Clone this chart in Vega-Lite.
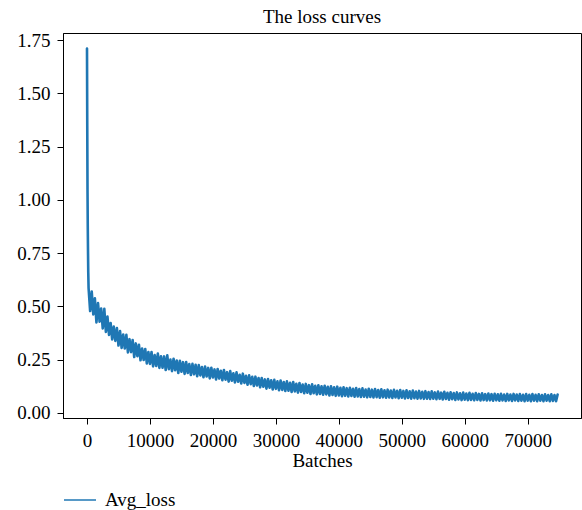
{
"$schema": "https://vega.github.io/schema/vega-lite/v6.json",
"width": 518, "height": 385,
"autosize": {"type": "none"},
"padding": {"left": 63, "top": 33, "right": 1, "bottom": 92},
"background": "white",
"title": {"text": "The loss curves", "font": "Liberation Serif", "fontSize": 19, "fontWeight": "normal", "color": "black", "offset": 4},
"config": {
  "view": {"stroke": "black", "strokeWidth": 1},
  "axis": {"labelFont": "Liberation Serif", "labelFontSize": 19, "labelColor": "black", "titleFont": "Liberation Serif", "titleFontSize": 19, "titleFontWeight": "normal", "titleColor": "black", "grid": false, "tickColor": "black", "domainColor": "black", "tickSize": 6, "labelPadding": 7}
},
"data": {"values": [
{"batch":0,"loss":1.71},{"batch":40,"loss":1.35},{"batch":80,"loss":1.05},{"batch":120,"loss":0.88},{"batch":160,"loss":0.76},{"batch":200,"loss":0.66},
{"batch":250,"loss":0.586},{"batch":500,"loss":0.478},{"batch":750,"loss":0.57},{"batch":1000,"loss":0.462},{"batch":1250,"loss":0.538},{"batch":1500,"loss":0.425},{"batch":1750,"loss":0.515},{"batch":2000,"loss":0.428},{"batch":2250,"loss":0.49},{"batch":2500,"loss":0.396},{"batch":2750,"loss":0.488},{"batch":3000,"loss":0.38},{"batch":3250,"loss":0.452},{"batch":3500,"loss":0.366},{"batch":3750,"loss":0.422},{"batch":4000,"loss":0.345},{"batch":4250,"loss":0.405},{"batch":4500,"loss":0.338},{"batch":4750,"loss":0.398},{"batch":5000,"loss":0.316},
{"batch":5250,"loss":0.384},{"batch":5500,"loss":0.305},{"batch":5750,"loss":0.368},{"batch":6000,"loss":0.302},{"batch":6250,"loss":0.366},{"batch":6500,"loss":0.284},{"batch":6750,"loss":0.346},{"batch":7000,"loss":0.285},{"batch":7250,"loss":0.342},{"batch":7500,"loss":0.262},{"batch":7750,"loss":0.326},{"batch":8000,"loss":0.266},{"batch":8250,"loss":0.32},{"batch":8500,"loss":0.247},{"batch":8750,"loss":0.302},{"batch":9000,"loss":0.248},{"batch":9250,"loss":0.3},{"batch":9500,"loss":0.232},{"batch":9750,"loss":0.286},{"batch":10000,"loss":0.23},
{"batch":10250,"loss":0.286},{"batch":10500,"loss":0.218},{"batch":10750,"loss":0.271},{"batch":11000,"loss":0.22},{"batch":11250,"loss":0.278},{"batch":11500,"loss":0.211},{"batch":11750,"loss":0.266},{"batch":12000,"loss":0.212},{"batch":12250,"loss":0.265},{"batch":12500,"loss":0.201},{"batch":12750,"loss":0.27},{"batch":13000,"loss":0.205},{"batch":13250,"loss":0.25},{"batch":13500,"loss":0.196},{"batch":13750,"loss":0.254},{"batch":14000,"loss":0.2},{"batch":14250,"loss":0.246},{"batch":14500,"loss":0.187},{"batch":14750,"loss":0.245},{"batch":15000,"loss":0.193},{"batch":15250,"loss":0.238},{"batch":15500,"loss":0.183},{"batch":15750,"loss":0.239},{"batch":16000,"loss":0.187},{"batch":16250,"loss":0.229},{"batch":16500,"loss":0.178},{"batch":16750,"loss":0.23},{"batch":17000,"loss":0.181},{"batch":17250,"loss":0.226},{"batch":17500,"loss":0.172},{"batch":17750,"loss":0.224},{"batch":18000,"loss":0.176},{"batch":18250,"loss":0.215},{"batch":18500,"loss":0.167},{"batch":18750,"loss":0.218},{"batch":19000,"loss":0.171},{"batch":19250,"loss":0.211},{"batch":19500,"loss":0.162},{"batch":19750,"loss":0.212},{"batch":20000,"loss":0.166},
{"batch":20250,"loss":0.204},{"batch":20500,"loss":0.157},{"batch":20750,"loss":0.206},{"batch":21000,"loss":0.161},{"batch":21250,"loss":0.198},{"batch":21500,"loss":0.153},{"batch":21750,"loss":0.201},{"batch":22000,"loss":0.156},{"batch":22250,"loss":0.191},{"batch":22500,"loss":0.147},{"batch":22750,"loss":0.196},{"batch":23000,"loss":0.151},{"batch":23250,"loss":0.186},{"batch":23500,"loss":0.143},{"batch":23750,"loss":0.19},{"batch":24000,"loss":0.146},{"batch":24250,"loss":0.179},{"batch":24500,"loss":0.138},{"batch":24750,"loss":0.184},{"batch":25000,"loss":0.141},{"batch":25250,"loss":0.174},{"batch":25500,"loss":0.132},{"batch":25750,"loss":0.176},{"batch":26000,"loss":0.135},{"batch":26250,"loss":0.169},{"batch":26500,"loss":0.126},{"batch":26750,"loss":0.17},{"batch":27000,"loss":0.129},{"batch":27250,"loss":0.164},{"batch":27500,"loss":0.12},{"batch":27750,"loss":0.164},{"batch":28000,"loss":0.123},{"batch":28250,"loss":0.157},{"batch":28500,"loss":0.114},{"batch":28750,"loss":0.159},{"batch":29000,"loss":0.118},{"batch":29250,"loss":0.153},{"batch":29500,"loss":0.11},{"batch":29750,"loss":0.155},{"batch":30000,"loss":0.113},
{"batch":30250,"loss":0.148},{"batch":30500,"loss":0.106},{"batch":30750,"loss":0.152},{"batch":31000,"loss":0.108},{"batch":31250,"loss":0.145},{"batch":31500,"loss":0.103},{"batch":31750,"loss":0.148},{"batch":32000,"loss":0.104},{"batch":32250,"loss":0.141},{"batch":32500,"loss":0.098},{"batch":32750,"loss":0.145},{"batch":33000,"loss":0.101},{"batch":33250,"loss":0.137},{"batch":33500,"loss":0.095},{"batch":33750,"loss":0.14},{"batch":34000,"loss":0.098},{"batch":34250,"loss":0.133},{"batch":34500,"loss":0.092},{"batch":34750,"loss":0.136},{"batch":35000,"loss":0.095},{"batch":35250,"loss":0.13},{"batch":35500,"loss":0.089},{"batch":35750,"loss":0.134},{"batch":36000,"loss":0.092},{"batch":36250,"loss":0.127},{"batch":36500,"loss":0.087},{"batch":36750,"loss":0.13},{"batch":37000,"loss":0.089},{"batch":37250,"loss":0.125},{"batch":37500,"loss":0.085},{"batch":37750,"loss":0.127},{"batch":38000,"loss":0.087},{"batch":38250,"loss":0.122},{"batch":38500,"loss":0.082},{"batch":38750,"loss":0.125},{"batch":39000,"loss":0.084},{"batch":39250,"loss":0.12},{"batch":39500,"loss":0.08},{"batch":39750,"loss":0.123},{"batch":40000,"loss":0.082},
{"batch":40250,"loss":0.118},{"batch":40500,"loss":0.078},{"batch":40750,"loss":0.12},{"batch":41000,"loss":0.08},{"batch":41250,"loss":0.116},{"batch":41500,"loss":0.077},{"batch":41750,"loss":0.118},{"batch":42000,"loss":0.079},{"batch":42250,"loss":0.113},{"batch":42500,"loss":0.076},{"batch":42750,"loss":0.117},{"batch":43000,"loss":0.077},{"batch":43250,"loss":0.112},{"batch":43500,"loss":0.075},{"batch":43750,"loss":0.115},{"batch":44000,"loss":0.076},{"batch":44250,"loss":0.11},{"batch":44500,"loss":0.073},{"batch":44750,"loss":0.113},{"batch":45000,"loss":0.075},{"batch":45250,"loss":0.109},{"batch":45500,"loss":0.072},{"batch":45750,"loss":0.112},{"batch":46000,"loss":0.074},{"batch":46250,"loss":0.107},{"batch":46500,"loss":0.071},{"batch":46750,"loss":0.111},{"batch":47000,"loss":0.073},{"batch":47250,"loss":0.106},{"batch":47500,"loss":0.071},{"batch":47750,"loss":0.109},{"batch":48000,"loss":0.072},{"batch":48250,"loss":0.105},{"batch":48500,"loss":0.07},{"batch":48750,"loss":0.108},{"batch":49000,"loss":0.072},{"batch":49250,"loss":0.104},{"batch":49500,"loss":0.069},{"batch":49750,"loss":0.107},{"batch":50000,"loss":0.071},
{"batch":50250,"loss":0.103},{"batch":50500,"loss":0.068},{"batch":50750,"loss":0.106},{"batch":51000,"loss":0.07},{"batch":51250,"loss":0.101},{"batch":51500,"loss":0.067},{"batch":51750,"loss":0.105},{"batch":52000,"loss":0.069},{"batch":52250,"loss":0.1},{"batch":52500,"loss":0.067},{"batch":52750,"loss":0.103},{"batch":53000,"loss":0.068},{"batch":53250,"loss":0.099},{"batch":53500,"loss":0.066},{"batch":53750,"loss":0.102},{"batch":54000,"loss":0.067},{"batch":54250,"loss":0.098},{"batch":54500,"loss":0.065},{"batch":54750,"loss":0.101},{"batch":55000,"loss":0.067},{"batch":55250,"loss":0.096},{"batch":55500,"loss":0.064},{"batch":55750,"loss":0.1},{"batch":56000,"loss":0.066},{"batch":56250,"loss":0.095},{"batch":56500,"loss":0.063},{"batch":56750,"loss":0.099},{"batch":57000,"loss":0.065},{"batch":57250,"loss":0.094},{"batch":57500,"loss":0.062},{"batch":57750,"loss":0.097},{"batch":58000,"loss":0.064},{"batch":58250,"loss":0.093},{"batch":58500,"loss":0.061},{"batch":58750,"loss":0.096},{"batch":59000,"loss":0.063},{"batch":59250,"loss":0.092},{"batch":59500,"loss":0.06},{"batch":59750,"loss":0.095},{"batch":60000,"loss":0.062},
{"batch":60250,"loss":0.091},{"batch":60500,"loss":0.06},{"batch":60750,"loss":0.094},{"batch":61000,"loss":0.061},{"batch":61250,"loss":0.09},{"batch":61500,"loss":0.059},{"batch":61750,"loss":0.093},{"batch":62000,"loss":0.061},{"batch":62250,"loss":0.089},{"batch":62500,"loss":0.058},{"batch":62750,"loss":0.092},{"batch":63000,"loss":0.06},{"batch":63250,"loss":0.088},{"batch":63500,"loss":0.058},{"batch":63750,"loss":0.091},{"batch":64000,"loss":0.059},{"batch":64250,"loss":0.088},{"batch":64500,"loss":0.057},{"batch":64750,"loss":0.09},{"batch":65000,"loss":0.059},{"batch":65250,"loss":0.087},{"batch":65500,"loss":0.057},{"batch":65750,"loss":0.09},{"batch":66000,"loss":0.058},{"batch":66250,"loss":0.086},{"batch":66500,"loss":0.056},{"batch":66750,"loss":0.089},{"batch":67000,"loss":0.058},{"batch":67250,"loss":0.086},{"batch":67500,"loss":0.056},{"batch":67750,"loss":0.089},{"batch":68000,"loss":0.058},{"batch":68250,"loss":0.086},{"batch":68500,"loss":0.056},{"batch":68750,"loss":0.088},{"batch":69000,"loss":0.057},{"batch":69250,"loss":0.085},{"batch":69500,"loss":0.055},{"batch":69750,"loss":0.088},{"batch":70000,"loss":0.057},
{"batch":70250,"loss":0.085},{"batch":70500,"loss":0.055},{"batch":70750,"loss":0.088},{"batch":71000,"loss":0.057},{"batch":71250,"loss":0.085},{"batch":71500,"loss":0.055},{"batch":71750,"loss":0.087},{"batch":72000,"loss":0.057},{"batch":72250,"loss":0.084},{"batch":72500,"loss":0.055},{"batch":72750,"loss":0.087},{"batch":73000,"loss":0.057},{"batch":73250,"loss":0.084},{"batch":73500,"loss":0.055},{"batch":73750,"loss":0.087},{"batch":74000,"loss":0.056},{"batch":74250,"loss":0.084},{"batch":74500,"loss":0.055},{"batch":74750,"loss":0.086}
]},
"mark": {"type": "line", "strokeWidth": 2.6, "strokeJoin": "round", "strokeCap": "round", "clip": true},
"encoding": {
  "x": {"field": "batch", "type": "quantitative", "title": "Batches",
        "scale": {"domain": [-3812, 78463], "nice": false, "zero": false},
        "axis": {"values": [0,10000,20000,30000,40000,50000,60000,70000], "format": "d", "titlePadding": 1}},
  "y": {"field": "loss", "type": "quantitative", "title": null,
        "scale": {"domain": [-0.024, 1.783], "nice": false, "zero": false},
        "axis": {"values": [0,0.25,0.5,0.75,1,1.25,1.5,1.75], "format": ".2f", "labelPadding": 7}},
  "color": {"datum": "Avg_loss", "type": "nominal",
            "scale": {"range": ["#1f77b4"]},
            "legend": {"title": null, "orient": "none", "legendX": 0, "legendY": 450, "symbolType": "stroke", "symbolSize": 1024, "symbolStrokeWidth": 1.5, "labelFont": "Liberation Serif", "labelFontSize": 19, "labelColor": "black", "labelOffset": 8, "padding": 0}}
}
}
